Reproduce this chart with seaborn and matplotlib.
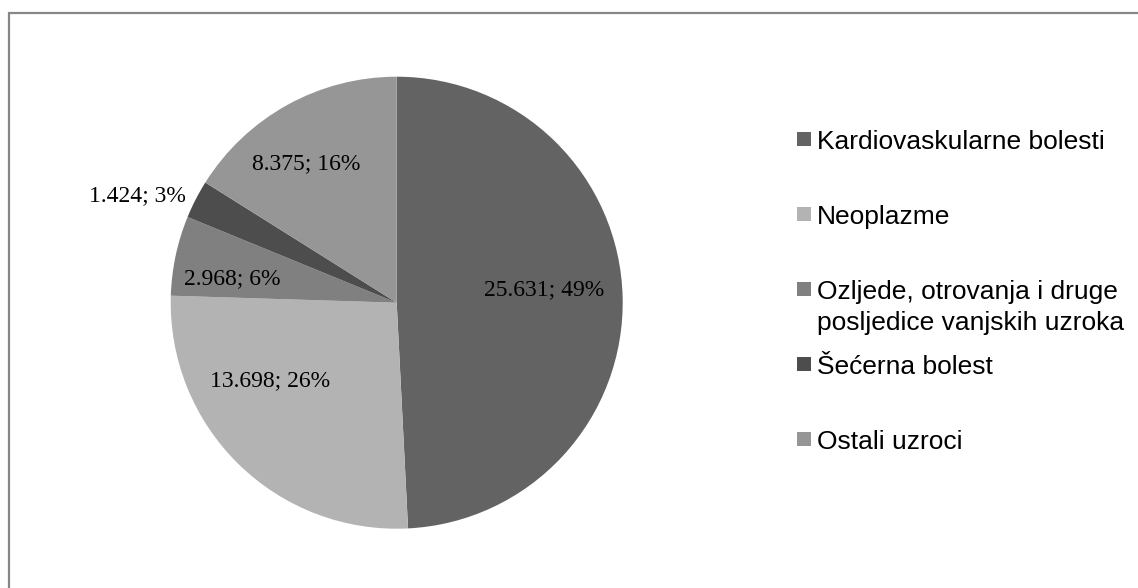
import matplotlib
matplotlib.use("Agg")
import matplotlib.pyplot as plt
from matplotlib.lines import Line2D
from matplotlib.patches import Rectangle
import seaborn as sns

# ---- data ----
categories = [
    "Kardiovaskularne bolesti",
    "Neoplazme",
    "Ozljede, otrovanja i druge\nposljedice vanjskih uzroka",
    "Šećerna bolest",
    "Ostali uzroci",
]
values = [25631, 13698, 2968, 1424, 8375]
colors = ["#636363", "#b3b3b3", "#808080", "#4d4d4d", "#969696"]

# ---- layout (label positions in pie-radius units) ----
label_xy = [(0.652, 0.056), (-0.561, -0.346), (-0.729, 0.105),
            (-1.145, 0.472), (-0.401, 0.614)]

sns.set_theme(style="white")
plt.rcParams["font.family"] = ["Liberation Sans", "DejaVu Sans"]

W, H = 1138, 588
fig = plt.figure(figsize=(W / 100, H / 100), dpi=100)
fig.patch.set_facecolor("white")

cx, cy, R = 396.7, 302.7, 226.0
ax = fig.add_axes([(cx - R) / W, (H - cy - R) / H, 2 * R / W, 2 * R / H])
palette = sns.color_palette(colors)
wedges, _ = ax.pie(values, colors=palette, startangle=90, counterclock=False,
                   radius=1.0, wedgeprops=dict(linewidth=0))
ax.set_xlim(-1, 1)
ax.set_ylim(-1, 1)
ax.set_aspect("equal")
ax.axis("off")

total = sum(values)
for v, (lx, ly) in zip(values, label_xy):
    pct = round(v / total * 100)
    txt = f"{v:,}".replace(",", ".") + f"; {pct}%"
    ax.text(lx, ly, txt, ha="center", va="center", fontsize=17,
            family=["Liberation Serif", "DejaVu Serif"], color="black",
            clip_on=False)

# ---- legend ----
first_baseline = 149
row_step = 75
line_step = 31
mx, msize, tx = 797, 14, 817
for i, (lab, col) in enumerate(zip(categories, palette)):
    base = first_baseline + i * row_step
    mc = base - 10
    fig.patches.append(Rectangle((mx / W, 1 - (mc + msize / 2) / H),
                                 msize / W, msize / H, transform=fig.transFigure,
                                 facecolor=col, edgecolor="none"))
    lines = lab.split("\n")
    for j, line in enumerate(lines):
        fig.text(tx / W, 1 - (base + j * line_step) / H, line, ha="left",
                 va="baseline", fontsize=19, color="black")

# ---- frame (top and left border) ----
fig.add_artist(Line2D([9 / W, 1.0], [1 - 13 / H, 1 - 13 / H],
                      transform=fig.transFigure, color="#878787", lw=1.6))
fig.add_artist(Line2D([9 / W, 9 / W], [0.0, 1 - 13 / H],
                      transform=fig.transFigure, color="#878787", lw=1.6))

fig.savefig("out.png", dpi=100, facecolor="white")
